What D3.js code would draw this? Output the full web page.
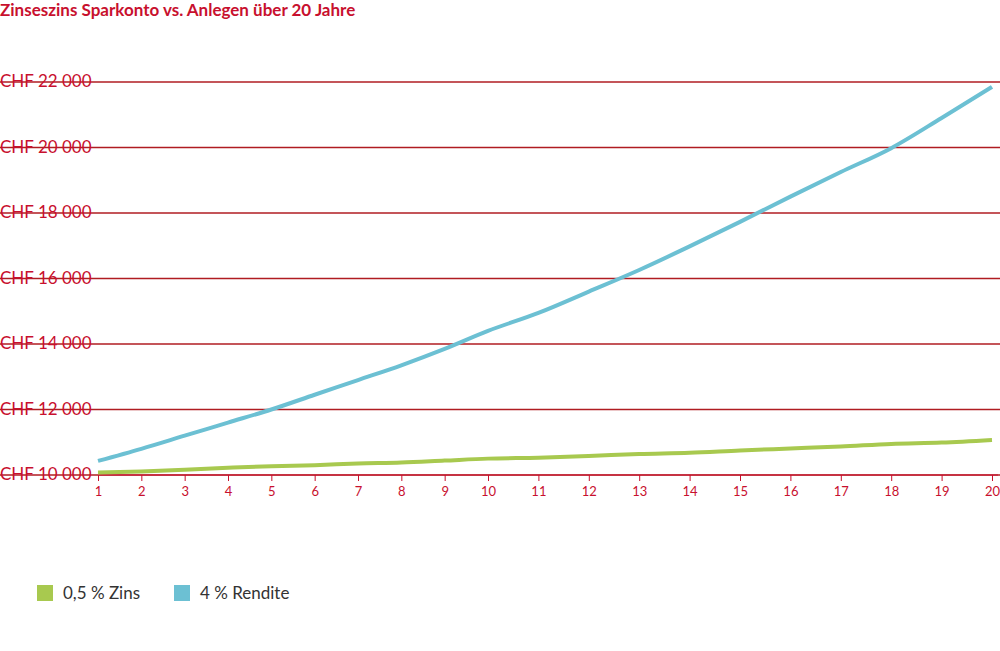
<!DOCTYPE html><html><head><meta charset="utf-8">
<script src="https://cdn.jsdelivr.net/npm/d3@7"></script>
<style>body{margin:0;background:#fff}text{font-family:Lato,sans-serif}</style></head><body>
<svg id="c" width="1000" height="651"></svg>
<script>
const years=[1,2,3,4,5,6,7,8,9,10,11,12,13,14,15,16,17,18,19,20];
const zins=[10080,10110,10160,10220,10270,10300,10350,10380,10440,10500,10530,10580,10640,10680,10750,10810,10870,10950,10990,11070];
const rendite=[10430,10800,11200,11600,12000,12450,12900,13350,13850,14400,14950,15600,16260,16980,17730,18500,19250,19980,20900,21850];
const yTicks=[10000,12000,14000,16000,18000,20000,22000];
const seriesNames=["0,5 % Zins","4 % Rendite"];
const colors=["#a8c94f","#6cc0d3"];
const red="#c8102e";
const svg=d3.select("#c");
const x=d3.scaleLinear().domain([1,10,20]).range([98,488,992]);
const y=d3.scaleLinear().domain([10000,22000]).range([475,82]);
svg.append("text").attr("x",0).attr("y",16).attr("fill",red).attr("font-weight","bold").attr("font-size",17).text("Zinseszins Sparkonto vs. Anlegen über 20 Jahre");
yTicks.forEach(t=>{
 svg.append("line").attr("x1",0).attr("x2",1000).attr("y1",y(t)).attr("y2",y(t)).attr("stroke","#b01c22").attr("stroke-width",1.3);
 svg.append("text").attr("x",0).attr("y",y(t)+5).attr("fill",red).attr("font-size",17).text("CHF "+d3.format(",")(t).replace(","," "));
});
const xa=svg.append("g").attr("transform","translate(0,475)").call(d3.axisBottom(x).tickValues(years).tickSize(6).tickFormat(d3.format("d")));
xa.select(".domain").attr("stroke",red).attr("d","M98,0H998");
xa.selectAll("line").attr("stroke",red);
xa.selectAll("text").attr("fill",red).attr("font-size",13).attr("dy","0.9em");
const line=d3.line().x((d,i)=>x(years[i])).y(d=>y(d)).curve(d3.curveMonotoneX);
[zins,rendite].forEach((s,i)=>svg.append("path").attr("d",line(s)).attr("fill","none").attr("stroke",colors[i]).attr("stroke-width",4));
const lx=[37,174];
seriesNames.forEach((n,i)=>{
 svg.append("rect").attr("x",lx[i]).attr("y",585).attr("width",16).attr("height",16).attr("fill",colors[i]);
 svg.append("text").attr("x",lx[i]+26).attr("y",599).attr("font-size",17).attr("fill","#333").text(n);
});
</script></body></html>
